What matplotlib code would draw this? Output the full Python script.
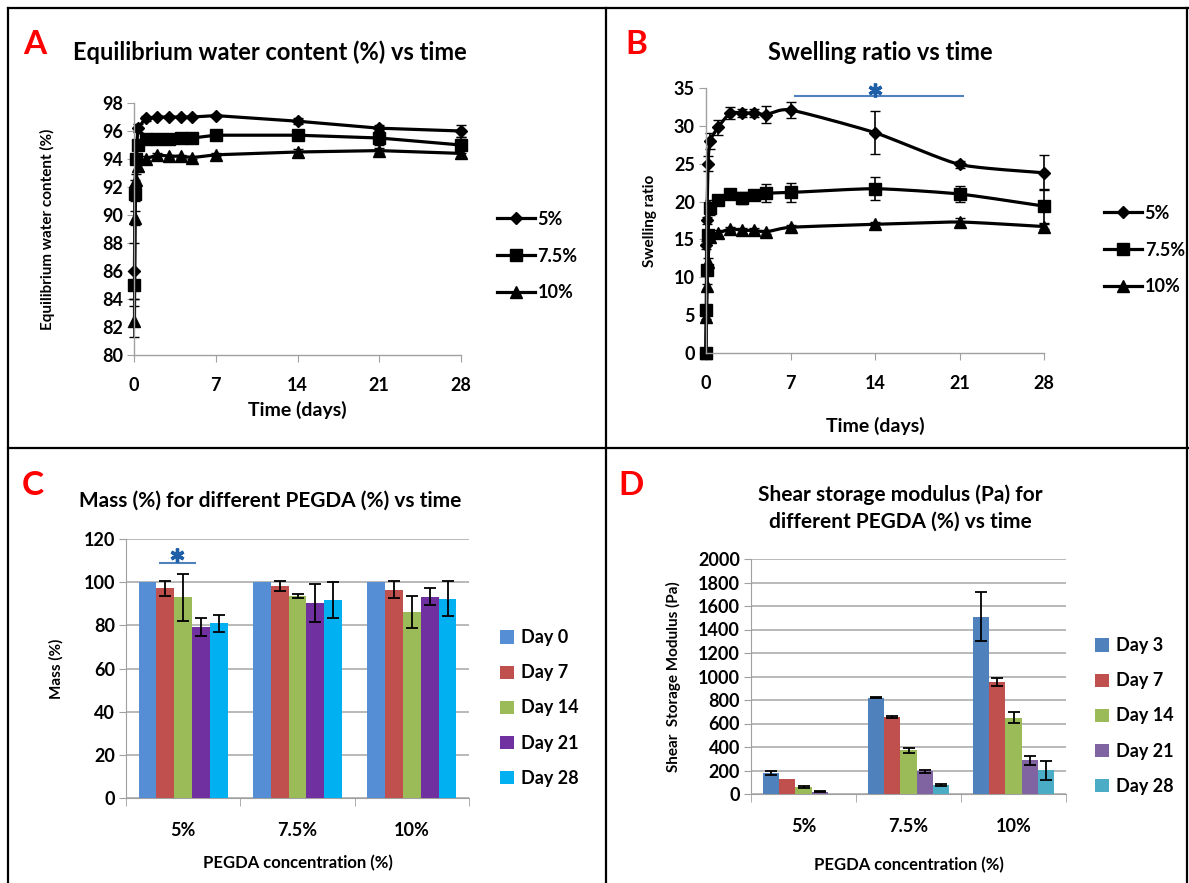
import numpy as np
import matplotlib
matplotlib.use("Agg")
import matplotlib.pyplot as plt
from matplotlib.lines import Line2D

plt.rcParams['font.family'] = ['Lato', 'DejaVu Sans']
plt.rcParams['font.weight'] = 'bold'

W, H = 1189, 883

# ---- data ----
times = [0, 0.04, 0.08, 0.17, 0.33, 1, 2, 3, 4, 5, 7, 14, 21, 28]
series_names = ['5%', '7.5%', '10%']

# A: equilibrium water content (first time point has no value)
ewc = {
    '5%':   [86.0, 92.0, 94.0, 96.2, 96.9, 97.0, 97.0, 97.0, 97.0, 97.1, 96.7, 96.2, 96.0],
    '7.5%': [85.0, 91.5, 94.0, 95.0, 95.4, 95.4, 95.4, 95.5, 95.5, 95.7, 95.7, 95.5, 95.0],
    '10%':  [82.4, 89.8, 92.5, 93.5, 94.0, 94.3, 94.2, 94.2, 94.1, 94.3, 94.5, 94.6, 94.4],
}
ewc_err = {
    '5%':   [2.0, 0.5, 0.3, 0.3, 0.2, 0.1, 0.1, 0.1, 0.1, 0.1, 0.2, 0.2, 0.4],
    '7.5%': [1.0, 0.5, 0.3, 0.3, 0.2, 0.1, 0.1, 0.1, 0.1, 0.1, 0.2, 0.5, 0.6],
    '10%':  [1.1, 0.5, 0.4, 0.3, 0.2, 0.1, 0.1, 0.1, 0.1, 0.1, 0.2, 0.2, 0.3],
}

# B: swelling ratio
swell = {
    '5%':   [0, 14.3, 17.5, 25.0, 28.0, 29.8, 31.7, 31.7, 31.7, 31.5, 32.1, 29.1, 24.9, 23.8],
    '7.5%': [0, 5.7, 11.0, 15.6, 19.2, 20.2, 21.0, 20.5, 20.9, 21.1, 21.2, 21.7, 21.0, 19.4],
    '10%':  [0, 4.8, 8.8, 12.0, 15.3, 15.8, 16.4, 16.2, 16.2, 16.0, 16.6, 17.0, 17.3, 16.7],
}
swell_err = {
    '5%':   [0, 0.5, 0.5, 1.0, 1.0, 1.0, 0.8, 0.5, 0.5, 1.1, 1.0, 2.8, 0.5, 2.3],
    '7.5%': [0, 0.5, 0.5, 0.5, 1.0, 0.5, 0.5, 0.8, 0.5, 1.2, 1.2, 1.5, 1.0, 2.2],
    '10%':  [0, 0.3, 0.3, 0.5, 0.5, 0.4, 0.3, 0.3, 0.3, 0.3, 0.3, 0.3, 0.5, 0.3],
}

# C: mass (%)
conc = ['5%', '7.5%', '10%']
mass_days = ['Day 0', 'Day 7', 'Day 14', 'Day 21', 'Day 28']
mass = [
    [100, 100, 100],
    [97.1, 98.2, 96.6],
    [92.9, 93.6, 86.0],
    [79.4, 90.4, 93.3],
    [81.0, 91.7, 92.4],
]
mass_err = [
    [0, 0, 0],
    [3.5, 2.5, 3.8],
    [10.8, 1.0, 7.4],
    [4.2, 8.9, 3.9],
    [4.0, 8.5, 8.1],
]
mass_colors = ['#558ED5', '#C0504D', '#9BBB59', '#7030A0', '#00B0F0']

# D: shear storage modulus (Pa)
mod_days = ['Day 3', 'Day 7', 'Day 14', 'Day 21', 'Day 28']
modulus = [
    [180, 819, 1508],
    [127, 657, 952],
    [60, 371, 651],
    [20, 192, 286],
    [0, 80, 201],
]
modulus_err = [
    [15, 5, 208],
    [0, 6, 33],
    [5, 20, 50],
    [3, 10, 38],
    [0, 8, 79],
]
mod_colors = ['#4F81BD', '#C0504D', '#9BBB59', '#8064A2', '#4BACC6']

markers = {'5%': 'D', '7.5%': 's', '10%': '^'}
msizes = {'5%': 6.5, '7.5%': 9, '10%': 8.5}
FS = 13


def px_axes(fig, left, top, right, bottom):
    return fig.add_axes([left / W, 1 - bottom / H, (right - left) / W, (bottom - top) / H])


def smooth(x, y, n=20):
    # smoothed connecting line through the data points (like Excel's smoothed line)
    x = np.asarray(x, float)
    y = np.asarray(y, float)
    xs, ys = [], []
    for i in range(len(x) - 1):
        p0 = i - 1 if i > 0 else i
        p3 = i + 2 if i + 2 < len(x) else i + 1
        t = np.linspace(0, 1, n, endpoint=False)
        for arr, out in ((x, xs), (y, ys)):
            P0, P1, P2, P3 = arr[p0], arr[i], arr[i + 1], arr[p3]
            m1 = (P2 - P0) / 2 * 0.6
            m2 = (P3 - P1) / 2 * 0.6
            h00 = 2 * t**3 - 3 * t**2 + 1
            h10 = t**3 - 2 * t**2 + t
            h01 = -2 * t**3 + 3 * t**2
            h11 = t**3 - t**2
            out.extend(h00 * P1 + h10 * m1 + h01 * P2 + h11 * m2)
    xs.append(x[-1])
    ys.append(y[-1])
    return np.array(xs), np.array(ys)


def style_line_axes(ax, xpad):
    for s in ['top', 'right']:
        ax.spines[s].set_visible(False)
    for s in ['left', 'bottom']:
        ax.spines[s].set_color('#A0A0A0')
        ax.spines[s].set_linewidth(1)
    ax.tick_params(axis='y', colors='#A0A0A0', length=5, labelcolor='black', labelsize=FS, pad=3)
    ax.tick_params(axis='x', colors='#A0A0A0', length=5, labelcolor='black', labelsize=FS, pad=xpad)
    for lab in ax.get_xticklabels() + ax.get_yticklabels():
        lab.set_fontweight('bold')


def line_legend(ax, x, y):
    handles = [Line2D([], [], color='black', lw=2.3, marker=markers[n], ms=msizes[n])
               for n in series_names]
    ax.legend(handles, series_names, loc='center left', bbox_to_anchor=(x / W, 1 - y / H),
              bbox_transform=fig.transFigure, frameon=False, borderpad=0, borderaxespad=0,
              handlelength=2.1, labelspacing=1.1, handletextpad=0.15,
              prop={'weight': 'bold', 'size': FS})


def star(ax, x, y):
    ax.plot([x], [y], marker=(6, 2, 0), ms=10, mew=2.4, color='#1F5FA8', clip_on=False, zorder=6)


fig = plt.figure(figsize=(W / 100, H / 100), dpi=100)

# ---- frame lines ----
border = dict(color='black', lw=1.6, transform=fig.transFigure)
fig.add_artist(Line2D([8 / W, 8 / W], [0, 1 - 8 / H], **border))
fig.add_artist(Line2D([8 / W, 1], [1 - 8 / H, 1 - 8 / H], **border))
fig.add_artist(Line2D([1187 / W, 1187 / W], [0, 1 - 8 / H], **border))
fig.add_artist(Line2D([606 / W, 606 / W], [0, 1 - 8 / H], **border))
fig.add_artist(Line2D([8 / W, 1], [1 - 448 / H, 1 - 448 / H], **border))

# ---- Panel A ----
axA = px_axes(fig, 134, 103, 461, 355)
for name in series_names:
    axA.errorbar(times[1:], ewc[name], yerr=ewc_err[name], color='black', lw=2.3,
                 marker=markers[name], ms=msizes[name], capsize=3.5, elinewidth=1.2,
                 clip_on=False)
for art in axA.get_children():
    art.set_clip_on(False)
axA.set_xlim(0, 28)
axA.set_ylim(80, 98)
axA.set_xticks([0, 7, 14, 21, 28])
axA.set_yticks(range(80, 99, 2))
style_line_axes(axA, 11)
axA.set_ylabel('Equilibrium water content (%)', fontsize=11, fontweight='bold', labelpad=34)
axA.set_xlabel('Time (days)', fontsize=14, fontweight='bold', labelpad=5)
line_legend(axA, 497, 256)
fig.text(23 / W, 1 - 45 / H, 'A', color='#FF0000', fontsize=24, fontweight='bold', va='center')
fig.text(73 / W, 1 - 52 / H, 'Equilibrium water content (%) vs time', fontsize=17,
         fontweight='bold', va='center')

# ---- Panel B ----
axB = px_axes(fig, 706, 88, 1044, 353)
for name in series_names:
    sx, sy = smooth(times, swell[name])
    axB.plot(sx, sy, color='black', lw=2.3)
    axB.errorbar(times, swell[name], yerr=swell_err[name], color='black', ls='none',
                 marker=markers[name], ms=msizes[name], capsize=3.5, elinewidth=1.2)
for art in axB.get_children():
    art.set_clip_on(False)
axB.set_xlim(0, 28)
axB.set_ylim(0, 35)
axB.set_xticks([0, 7, 14, 21, 28])
axB.set_yticks(range(0, 36, 5))
style_line_axes(axB, 11)
axB.set_ylabel('Swelling ratio', fontsize=11, fontweight='bold', labelpad=12)
axB.set_xlabel('Time (days)', fontsize=14, fontweight='bold', labelpad=18)
axB.plot([7.4, 21.3], [33.9, 33.9], color='#4F81BD', lw=1.5, clip_on=False)
star(axB, 14, 34.8)
line_legend(axB, 1104, 250)
fig.text(625 / W, 1 - 45 / H, 'B', color='#FF0000', fontsize=24, fontweight='bold', va='center')
fig.text(880 / W, 1 - 52 / H, 'Swelling ratio vs time', fontsize=17, fontweight='bold',
         va='center', ha='center')


# ---- bar panels ----
def bar_panel(ax, values, errors, colors, labels, ymax, ystep):
    n = len(values)
    width = 0.78 / n
    x = np.arange(len(conc))
    for i in range(n):
        pos = x - 0.39 + width * (i + 0.5)
        ax.bar(pos, values[i], width=width, color=colors[i], label=labels[i], zorder=3,
               edgecolor='none')
        err = np.array(errors[i], float)
        mask = err > 0
        ax.errorbar(pos[mask], np.array(values[i])[mask], yerr=err[mask], fmt='none',
                    ecolor='black', capsize=4, elinewidth=1.3, capthick=1.3, zorder=4)
    ax.set_xlim(-0.5, len(conc) - 0.5)
    ax.set_ylim(0, ymax)
    ax.set_yticks(np.arange(0, ymax + 1, ystep))
    ax.set_xticks(x)
    ax.set_xticklabels(conc)
    ax.set_xticks(np.arange(-0.5, len(conc)), minor=True)
    ax.grid(axis='y', color='#A6A6A6', lw=1.1, zorder=0)
    for s in ['top', 'right']:
        ax.spines[s].set_visible(False)
    for s in ['left', 'bottom']:
        ax.spines[s].set_color('#A0A0A0')
    ax.tick_params(axis='x', which='major', length=0, pad=17, labelsize=FS)
    ax.tick_params(axis='x', which='minor', length=6, color='#A0A0A0')
    ax.tick_params(axis='y', length=5, color='#A0A0A0', labelsize=FS, pad=3)
    for lab in ax.get_xticklabels() + ax.get_yticklabels():
        lab.set_fontweight('bold')
    ax.legend(loc='center left', bbox_transform=fig.transFigure, frameon=False,
              borderpad=0, borderaxespad=0, handlelength=0.75, handleheight=0.75,
              labelspacing=1.0, handletextpad=0.4, prop={'weight': 'bold', 'size': FS})


axC = px_axes(fig, 126, 539, 469, 798)
bar_panel(axC, mass, mass_err, mass_colors, mass_days, 120, 20)
axC.get_legend().set_bbox_to_anchor((500 / W, 1 - 708 / H), transform=fig.transFigure)
axC.set_ylabel('Mass (%)', fontsize=11, fontweight='bold', labelpad=14)
axC.set_xlabel('PEGDA concentration (%)', fontsize=12, fontweight='bold', labelpad=12)
axC.plot([-0.2, 0.1], [108.9, 108.9], color='#4F81BD', lw=1.5, clip_on=False, zorder=5)
star(axC, -0.05, 112.4)
fig.text(22 / W, 1 - 485 / H, 'C', color='#FF0000', fontsize=24, fontweight='bold', va='center')
fig.text(270 / W, 1 - 501 / H, 'Mass (%) for different PEGDA (%) vs time', fontsize=15,
         fontweight='bold', va='center', ha='center')

axD = px_axes(fig, 751, 559, 1066, 794)
bar_panel(axD, modulus, modulus_err, mod_colors, mod_days, 2000, 200)
axD.get_legend().set_bbox_to_anchor((1095 / W, 1 - 716 / H), transform=fig.transFigure)
axD.set_ylabel('Shear  Storage Modulus (Pa)', fontsize=11, fontweight='bold', labelpad=12)
axD.set_xlabel('PEGDA concentration (%)', fontsize=12, fontweight='bold', labelpad=16)
fig.text(618 / W, 1 - 485 / H, 'D', color='#FF0000', fontsize=24, fontweight='bold', va='center')
fig.text(900 / W, 1 - 508 / H, 'Shear storage modulus (Pa) for\ndifferent PEGDA (%) vs time',
         fontsize=15, fontweight='bold', va='center', ha='center', linespacing=1.4)

fig.savefig('out.png', dpi=100)
